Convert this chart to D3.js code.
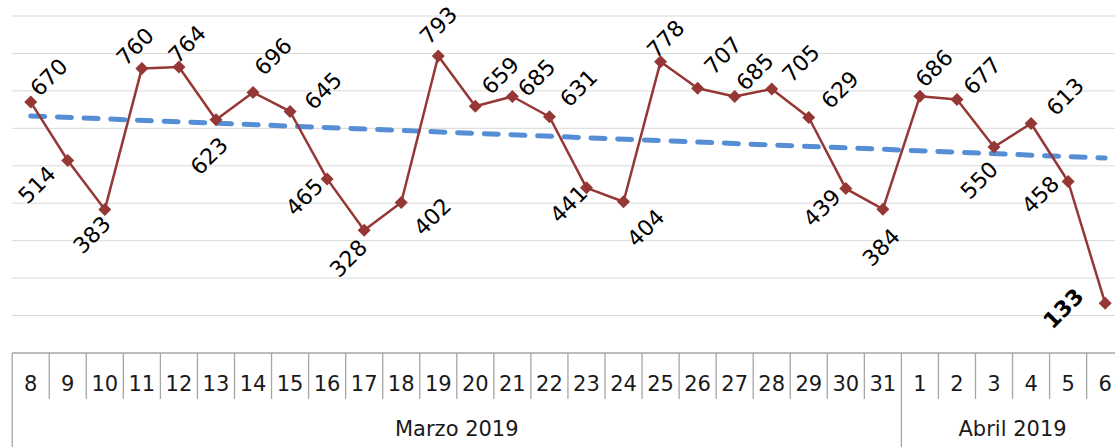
<!DOCTYPE html>
<html>
<head>
<meta charset="utf-8">
<script src="https://cdn.jsdelivr.net/npm/d3@7"></script>
<style>
  html, body { margin: 0; padding: 0; background: #fff; }
  svg { display: block; font-family: "DejaVu Sans", sans-serif; }
</style>
</head>
<body>
<svg id="chart" width="1115" height="447"></svg>
<script>
// ---- data ----
const days = ["8","9","10","11","12","13","14","15","16","17","18","19","20","21","22","23","24","25","26","27","28","29","30","31","1","2","3","4","5","6"];
const months = ["Marzo 2019", "Abril 2019"];
const monthDayCounts = [24, 6];
const values = [670,514,383,760,764,623,696,645,465,328,402,793,659,685,631,441,404,778,707,685,705,629,439,384,686,677,550,613,458,133];
const yTicks = [0,100,200,300,400,500,600,700,800,900];
// label nudges (dx, dy) relative to each point, in px
const labelNudge = [[18,-25],[-31,24],[-13,25],[-7,-22],[8,-23],[-7,36],[20,-36],[33,-21],[-23,18],[-16,28],
  [31,14],[0,-31],[25,-31],[24,-19],[29,-29],[-18,16],[22,26],[5,-23],[25,-33],[20,-25],
  [29,-26],[31,-28],[-24,19],[-2,38],[14,-28],[25,-24],[-15,33],[34,-27],[-28,13],[-42,5]];

// ---- layout ----
const svg = d3.select("#chart");
const plotLeft = 12.2, bandW = 37.05;
const plotRight = plotLeft + bandW * days.length;
const yTop = 16, yBase = 353;

const x = d3.scaleBand().domain(d3.range(days.length)).range([plotLeft, plotRight]).padding(0);
const xc = i => x(i) + x.bandwidth() / 2;
const y = d3.scaleLinear().domain([0, 900]).range([yBase, yTop]);

// gridlines
svg.append("g").selectAll("line").data(yTicks.filter(t => t > 0)).join("line")
  .attr("x1", plotLeft).attr("x2", 1115)
  .attr("y1", d => y(d)).attr("y2", d => y(d))
  .attr("stroke", "#d9d9d9").attr("stroke-width", 1);

// category axis
const axisColor = "#a6a6a6";
const ax = svg.append("g");
ax.append("line").attr("x1", plotLeft).attr("x2", 1115).attr("y1", yBase).attr("y2", yBase)
  .attr("stroke", axisColor).attr("stroke-width", 1.3);
const monthStarts = [];
let acc = 0;
monthDayCounts.forEach(c => { monthStarts.push(acc); acc += c; });
ax.selectAll("line.sep").data(d3.range(1, days.length)).join("line")
  .attr("class", "sep")
  .attr("x1", i => x(i)).attr("x2", i => x(i))
  .attr("y1", yBase).attr("y2", i => monthStarts.includes(i) ? 447 : 399)
  .attr("stroke", axisColor).attr("stroke-width", 1.3);
ax.append("line").attr("x1", x(0)).attr("x2", x(0)).attr("y1", yBase).attr("y2", 447)
  .attr("stroke", axisColor).attr("stroke-width", 1.3);

ax.selectAll("text.day").data(days).join("text")
  .attr("class", "day")
  .attr("x", (d, i) => xc(i)).attr("y", 391)
  .attr("text-anchor", "middle").attr("font-size", 21).attr("fill", "#1a1a1a")
  .text(d => d);

ax.selectAll("text.month").data(months).join("text")
  .attr("class", "month")
  .attr("x", (d, k) => x(monthStarts[k]) + monthDayCounts[k] * bandW / 2)
  .attr("y", 436)
  .attr("text-anchor", "middle").attr("font-size", 21).attr("fill", "#1a1a1a")
  .text(d => d);

// trendline (least squares)
const xs = d3.range(values.length);
const mx = d3.mean(xs), my = d3.mean(values);
const slope = d3.sum(xs, i => (i - mx) * (values[i] - my)) / d3.sum(xs, i => (i - mx) ** 2);
const icpt = my - slope * mx;
const trendIdx = [0, values.length - 1];
svg.append("path")
  .attr("d", d3.line().x(i => xc(i)).y(i => y(icpt + slope * i))(trendIdx))
  .attr("fill", "none").attr("stroke", "#558ed5").attr("stroke-width", 5)
  .attr("stroke-dasharray", "14 12.7").attr("stroke-linecap", "round");

// series line
svg.append("path")
  .attr("d", d3.line().x((d, i) => xc(i)).y(d => y(d))(values))
  .attr("fill", "none").attr("stroke", "#953735").attr("stroke-width", 2.5)
  .attr("stroke-linejoin", "round");

// markers (diamonds)
const mk = 6.5;
svg.append("g").selectAll("path").data(values).join("path")
  .attr("d", (d, i) => {
    const cx = xc(i), cy = y(d);
    return `M${cx},${cy - mk}L${cx + mk},${cy}L${cx},${cy + mk}L${cx - mk},${cy}Z`;
  })
  .attr("fill", "#953735");

// data labels
svg.append("g").selectAll("text").data(values).join("text")
  .attr("transform", (d, i) => `translate(${xc(i) + labelNudge[i][0]},${y(d) + labelNudge[i][1]}) rotate(-45)`)
  .attr("text-anchor", "middle").attr("dy", "0.36em")
  .attr("font-size", 22).attr("fill", "#000")
  .attr("font-weight", (d, i) => i === values.length - 1 ? "bold" : "normal")
  .text(d => d);
</script>
</body>
</html>
